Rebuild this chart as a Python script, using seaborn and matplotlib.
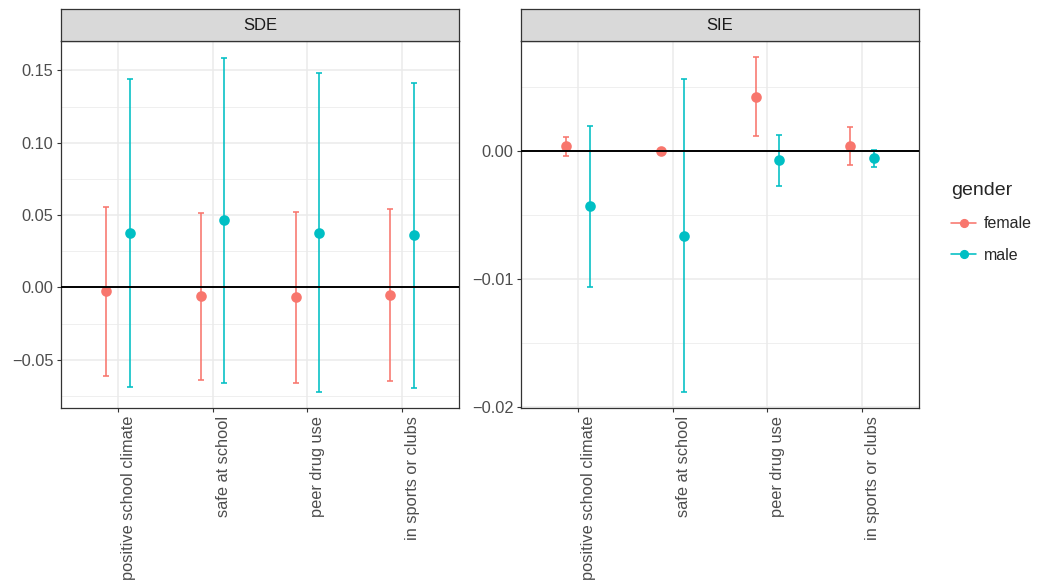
import numpy as np
import pandas as pd
import matplotlib
matplotlib.use("Agg")
import matplotlib.pyplot as plt
import matplotlib.transforms as mtransforms
from matplotlib.lines import Line2D
import seaborn as sns

# --- data -------------------------------------------------------------
categories = ["positive school climate", "safe at school", "peer drug use", "in sports or clubs"]
genders = ["female", "male"]

# SDE estimates and interval bounds
sde_female_est = [-0.0028, -0.0062, -0.0067, -0.0052]
sde_female_lo = [-0.0610, -0.0640, -0.0660, -0.0645]
sde_female_hi = [0.0555, 0.0517, 0.0522, 0.0543]
sde_male_est = [0.0378, 0.0465, 0.0378, 0.0362]
sde_male_lo = [-0.0690, -0.0658, -0.0726, -0.0693]
sde_male_hi = [0.1440, 0.1586, 0.1480, 0.1412]

# SIE estimates and interval bounds
sie_female_est = [0.00034, 0.00000, 0.00420, 0.00037]
sie_female_lo = [-0.00039, -0.00002, 0.00115, -0.00112]
sie_female_hi = [0.00107, 0.00002, 0.00727, 0.00185]
sie_male_est = [-0.00432, -0.00667, -0.00075, -0.00060]
sie_male_lo = [-0.01063, -0.01880, -0.00273, -0.00125]
sie_male_hi = [0.00195, 0.00555, 0.00125, 0.00008]

palette = {"female": "#F8766D", "male": "#00BFC4"}


def build_frame(f_est, f_lo, f_hi, m_est, m_lo, m_hi):
    rows = []
    for g, est, lo, hi in (("female", f_est, f_lo, f_hi), ("male", m_est, m_lo, m_hi)):
        for c, e, l, h in zip(categories, est, lo, hi):
            rows.append({"category": c, "gender": g, "estimate": e, "lower": l, "upper": h})
    return pd.DataFrame(rows)


panels = [
    ("SDE", build_frame(sde_female_est, sde_female_lo, sde_female_hi,
                        sde_male_est, sde_male_lo, sde_male_hi),
     (-0.0834, 0.1703), [-0.05, 0.00, 0.05, 0.10, 0.15], 0.025, "{:.2f}"),
    ("SIE", build_frame(sie_female_est, sie_female_lo, sie_female_hi,
                        sie_male_est, sie_male_lo, sie_male_hi),
     (-0.02005, 0.00855), [-0.02, -0.01, 0.00], 0.005, "{:.2f}"),
]

# --- styling ----------------------------------------------------------
sns.set_theme(style="white")
plt.rcParams["font.family"] = ["Liberation Sans", "DejaVu Sans"]
plt.rcParams["axes.unicode_minus"] = True

W, H = 1039, 585
fig = plt.figure(figsize=(W / 100, H / 100), dpi=100)

TICK_FS = 11.8
dodge = 0.25
axes_px = [(61, 41, 398, 367), (521, 41, 398, 367)]

for (title, df, ylim, yticks, minor_step, fmt), (px, py, pw, ph) in zip(panels, axes_px):
    ax = fig.add_axes([px / W, 1 - (py + ph) / H, pw / W, ph / H])
    ax.set_facecolor("white")

    sns.pointplot(data=df, x="category", y="estimate", hue="gender",
                  order=categories, hue_order=genders, palette=palette,
                  dodge=dodge, linestyle="none", markers="o", errorbar=None,
                  markersize=5.6, legend=False, ax=ax, zorder=4)

    offsets = {"female": -dodge / 2, "male": dodge / 2}
    for g in genders:
        sub = df[df["gender"] == g].set_index("category").loc[categories]
        xs = np.arange(len(categories)) + offsets[g]
        est = sub["estimate"].to_numpy()
        yerr = np.vstack([est - sub["lower"].to_numpy(), sub["upper"].to_numpy() - est])
        ax.errorbar(xs, est, yerr=yerr, fmt="none", ecolor=palette[g],
                    elinewidth=1.15, capsize=2.0, capthick=1.15, zorder=3)

    ax.axhline(0, color="black", lw=1.4, zorder=6)

    ax.set_xlim(-0.6, len(categories) - 0.4)
    ax.set_ylim(*ylim)
    ax.set_yticks(yticks)
    ax.set_yticklabels([fmt.format(v).replace("-", "\u2212") if v != 0 else fmt.format(0)
                        for v in yticks])
    minors = np.arange(yticks[0] - minor_step, yticks[-1] + 2 * minor_step, 2 * minor_step)
    minors = [m for m in minors if ylim[0] <= m <= ylim[1]]
    ax.set_yticks(minors, minor=True)
    ax.set_xticks(np.arange(len(categories)))
    ax.set_xticklabels(categories)

    ax.grid(True, which="major", color="#EBEBEB", lw=1.1, zorder=0)
    ax.grid(True, which="minor", axis="y", color="#EBEBEB", lw=0.55, zorder=0)
    ax.set_axisbelow(True)

    for sp in ax.spines.values():
        sp.set_color("#333333")
        sp.set_linewidth(0.9)
        sp.set_visible(True)

    ax.tick_params(axis="both", which="major", length=3.0, width=0.8, color="#333333",
                   labelsize=TICK_FS, labelcolor="#4D4D4D", pad=2.5,
                   bottom=True, left=True)
    ax.tick_params(axis="y", which="minor", length=0, left=False)
    shift = mtransforms.ScaledTranslation(3.0 / 100, 0, fig.dpi_scale_trans)
    for lab in ax.get_xticklabels():
        lab.set_rotation(90)
        lab.set_ha("left")
        lab.set_va("top")
        lab.set_transform(lab.get_transform() + shift)
    ax.set_xlabel("")
    ax.set_ylabel("")

    # facet strip
    sax = fig.add_axes([px / W, 1 - py / H, pw / W, 32 / H])
    sax.set_facecolor("#D9D9D9")
    sax.set_xticks([])
    sax.set_yticks([])
    for sp in sax.spines.values():
        sp.set_color("#333333")
        sp.set_linewidth(0.9)
    sax.text(0.5, 0.48, title, transform=sax.transAxes, ha="center", va="center",
             fontsize=12, color="#1A1A1A")

# legend
handles = [Line2D([0], [0], color=palette[g], marker="o", markersize=5.6, lw=1.15)
           for g in genders]
leg = fig.legend(handles, genders, title="gender", loc="upper left",
                 bbox_to_anchor=(945 / W, 1 - 176 / H), frameon=False,
                 fontsize=11.5, title_fontsize=14, handlelength=1.55,
                 handletextpad=0.5, labelspacing=1.05, borderaxespad=0)
leg._legend_box.align = "left"

fig.savefig("out.png", dpi=100)
